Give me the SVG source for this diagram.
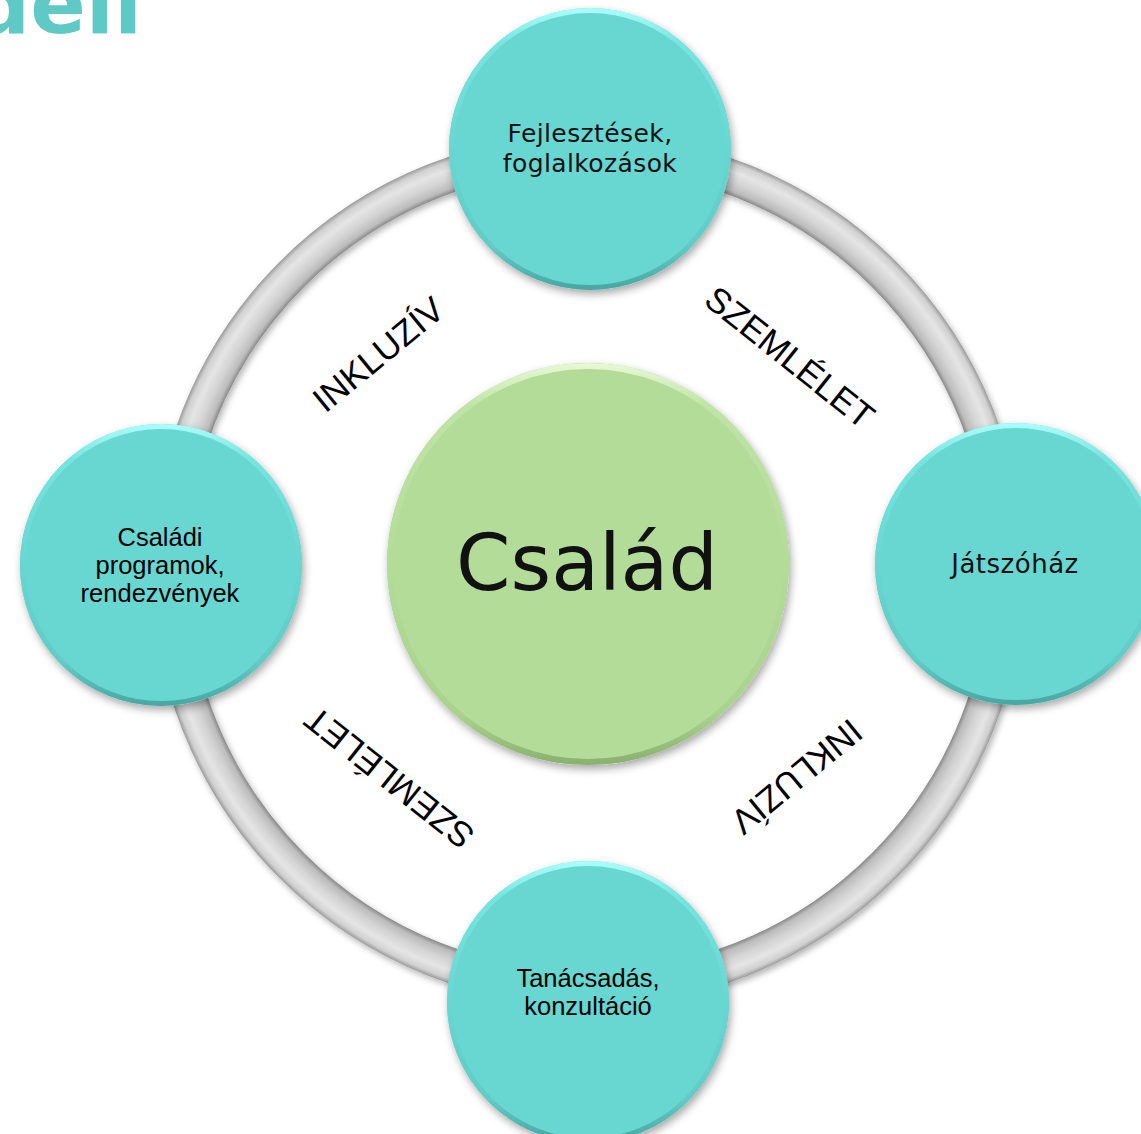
<svg xmlns="http://www.w3.org/2000/svg" width="1141" height="1134" viewBox="0 0 1141 1134">
<defs>
<style>
.node{fill:#68D6D1;}
.rimT{fill:none;stroke:url(#tealRim);stroke-width:5;}
.rimG{fill:none;stroke:url(#greenRim);stroke-width:6;}
.geo{font-family:"DejaVu Sans","Noto Sans",sans-serif;fill:#111;text-anchor:middle;}
.ari{font-family:"Liberation Sans",Arial,sans-serif;fill:#000;text-anchor:middle;font-size:25.5px;}
.lbl{font-family:"Liberation Sans",Arial,sans-serif;fill:#000;text-anchor:middle;font-size:35px;}
</style>
<linearGradient id="tealRim" x1="0" y1="0" x2="0" y2="1">
<stop offset="0" stop-color="#a8fcf9"/>
<stop offset="0.12" stop-color="#76e4df"/>
<stop offset="0.5" stop-color="#68d6d1"/>
<stop offset="0.85" stop-color="#62cbc6"/>
<stop offset="1" stop-color="#4aa8a3"/>
</linearGradient>
<linearGradient id="greenRim" x1="0" y1="0" x2="0" y2="1">
<stop offset="0" stop-color="#e4f8d2"/>
<stop offset="0.1" stop-color="#c0e4a8"/>
<stop offset="0.5" stop-color="#b3dc98"/>
<stop offset="0.88" stop-color="#aad28e"/>
<stop offset="1" stop-color="#8bb270"/>
</linearGradient>
<radialGradient id="ringGrad" gradientUnits="userSpaceOnUse" cx="588" cy="570" r="436">
<stop offset="0.9197" stop-color="#8a8a8a"/>
<stop offset="0.93" stop-color="#bcbcbc"/>
<stop offset="0.95" stop-color="#d4d4d4"/>
<stop offset="0.972" stop-color="#e5e5e5"/>
<stop offset="0.99" stop-color="#d0d0d0"/>
<stop offset="1" stop-color="#9a9a9a"/>
</radialGradient>
<filter id="sh" x="-20%" y="-20%" width="140%" height="140%">
<feDropShadow dx="2" dy="4" stdDeviation="4" flood-color="#000" flood-opacity="0.35"/>
</filter>
<filter id="shRing" filterUnits="userSpaceOnUse" x="100" y="100" width="1000" height="1000">
<feDropShadow dx="2" dy="3" stdDeviation="3" flood-color="#000" flood-opacity="0.3"/>
</filter>
</defs>
<rect width="1141" height="1134" fill="#fff"/>
<text x="142" y="33" font-family="'DejaVu Sans',sans-serif" font-weight="bold" font-size="82" fill="#5FC9C5" text-anchor="end">Modell</text>
<g id="connectors">
<circle cx="588" cy="570" r="418.5" fill="none" stroke="url(#ringGrad)" stroke-width="35" filter="url(#shRing)"/>
</g>
<g id="labels">
<text class="lbl" transform="translate(378,354) rotate(-39.5)" y="12.5">INKLUZÍV</text>
<text class="lbl" transform="translate(790,357) rotate(38.5)" y="12.5">SZEMLÉLET</text>
<text class="lbl" transform="translate(797,777) rotate(140.5)" y="12.5">INKLUZÍV</text>
<text class="lbl" transform="translate(389,778) rotate(218.5)" y="12.5">SZEMLÉLET</text>
</g>
<g id="node-csalad">
<circle cx="588" cy="564" r="201" fill="#B3DC98" filter="url(#sh)"/>
<circle class="rimG" cx="588" cy="564" r="198"/>
<text class="geo" x="587" y="590" font-size="78">Család</text>
</g>
<g id="node-fejlesztesek">
<circle class="node" cx="590" cy="149" r="141" filter="url(#sh)"/>
<circle class="rimT" cx="590" cy="149" r="138.5"/>
<text class="geo" x="590" y="142" font-size="25" letter-spacing="0.4">Fejlesztések,</text>
<text class="geo" x="590" y="172" font-size="25" letter-spacing="0.4">foglalkozások</text>
</g>
<g id="node-jatszohaz">
<circle class="node" cx="1016" cy="564" r="141" filter="url(#sh)"/>
<circle class="rimT" cx="1016" cy="564" r="138.5"/>
<text class="geo" x="1015" y="573" font-size="26" letter-spacing="0.5">Játszóház</text>
</g>
<g id="node-tanacsadas">
<circle class="node" cx="588" cy="1002" r="141" filter="url(#sh)"/>
<circle class="rimT" cx="588" cy="1002" r="138.5"/>
<text class="ari" x="588" y="987">Tanácsadás,</text>
<text class="ari" x="588" y="1015">konzultáció</text>
</g>
<g id="node-csaladi">
<circle class="node" cx="161" cy="565" r="141" filter="url(#sh)"/>
<circle class="rimT" cx="161" cy="565" r="138.5"/>
<text class="ari" x="160" y="546">Családi</text>
<text class="ari" x="160" y="574">programok,</text>
<text class="ari" x="160" y="602">rendezvények</text>
</g>
</svg>
